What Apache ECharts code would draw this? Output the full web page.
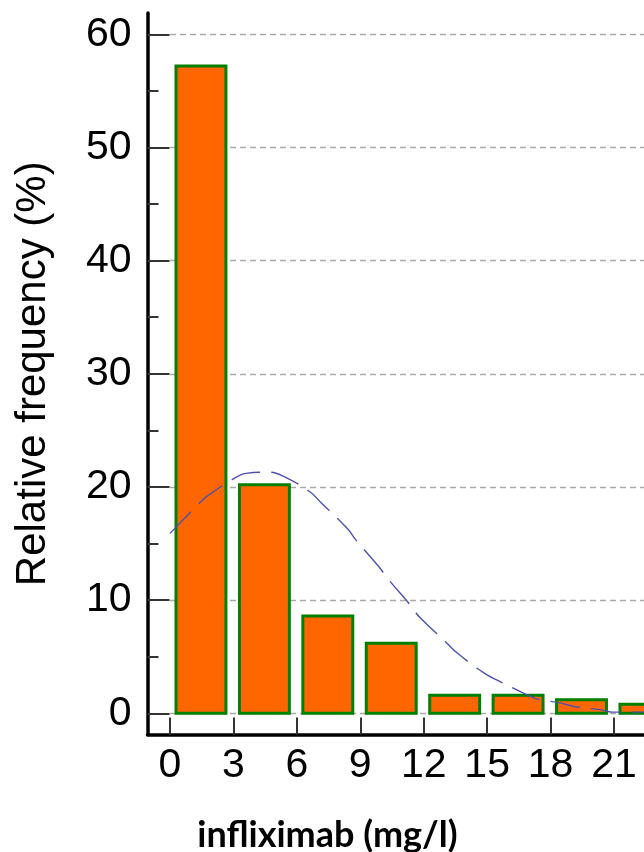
<!DOCTYPE html>
<html>
<head>
<meta charset="utf-8">
<script src="https://cdn.jsdelivr.net/npm/echarts@6/dist/echarts.min.js"></script>
<style>
  html, body { margin: 0; padding: 0; background: #fff; }
  #chart { width: 644px; height: 852px; }
</style>
</head>
<body>
<div id="chart"></div>
<script>
// Histogram bins of infliximab concentration (mg/l) and relative frequency (%)
const binStart = [0, 3, 6, 9, 12, 15, 18, 21];
const binEnd = [3, 6, 9, 12, 15, 18, 21, 24];
const relFreq = [57.2, 20.2, 8.6, 6.2, 1.6, 1.6, 1.2, 0.8];

// Fitted normal curve, sampled along the x axis
const curveX = [0, 1.2, 1.7, 2.9, 3.6, 4.7, 5.3, 6.6, 7.1, 8.4, 8.8, 9.9, 10.3, 11.4, 11.8,
                13.1, 13.6, 14.9, 15.5, 16.7, 17.3, 18.5, 19.1, 20.4, 20.9, 22.4];
const curveY = [15.9, 18.2, 19.1, 20.6, 21.2, 21.3, 21.0, 19.6, 18.7, 16.3, 15.3, 12.9, 11.9, 9.5, 8.5,
                6.2, 5.3, 3.5, 2.9, 1.8, 1.3, 0.9, 0.6, 0.3, 0.1, 0.1];

// Axis ticks
const xTicks = { min: 0, max: 24, step: 3 };
const yTicks = { min: 0, max: 60, step: 10 };

const histData = binStart.map((s, i) => [s, binEnd[i], relFreq[i]]);
const curveData = curveX.map((x, i) => [x, curveY[i]]);

const chart = echarts.init(document.getElementById('chart'), null, { renderer: 'canvas' });

const labelFont = 'Liberation Sans, Arial, sans-serif';

chart.setOption({
  animation: false,
  backgroundColor: '#ffffff',
  grid: [
    // outer frame carrying the two black axis lines
    { left: 147.5, top: 13, width: 600, height: 721.5, outerBoundsMode: 'none', containLabel: false },
    // plotting area (runs past the right edge of the canvas)
    { left: 170, top: 34.3, width: 507.4, height: 679, outerBoundsMode: 'none', containLabel: false }
  ],
  xAxis: [
    {
      gridIndex: 0, type: 'value', min: 0, max: 1,
      axisLine: { show: true, onZero: false, lineStyle: { color: '#000', width: 3.5 } },
      axisTick: { show: false }, axisLabel: { show: false }, splitLine: { show: false }
    },
    {
      gridIndex: 1, type: 'value', min: xTicks.min, max: xTicks.max, interval: xTicks.step,
      position: 'bottom', offset: 21.2,
      axisLine: { show: false, onZero: false },
      axisTick: { show: true, inside: true, length: 17, lineStyle: { color: '#333', width: 2 } },
      axisLabel: { fontSize: 41, fontFamily: labelFont, color: '#000', margin: 11 },
      splitLine: { show: false }
    }
  ],
  yAxis: [
    {
      gridIndex: 0, type: 'value', min: 0, max: 1,
      axisLine: { show: true, onZero: false, lineStyle: { color: '#000', width: 3.5 } },
      axisTick: { show: false }, axisLabel: { show: false }, splitLine: { show: false },
      name: 'Relative frequency (%)', nameLocation: 'middle', nameGap: 93,
      nameTextStyle: { fontSize: 42, fontFamily: labelFont, color: '#000' }
    },
    {
      gridIndex: 1, type: 'value', min: yTicks.min, max: yTicks.max, interval: yTicks.step,
      position: 'left', offset: 22.5,
      axisLine: { show: false, onZero: false },
      axisTick: { show: true, inside: true, length: 22, lineStyle: { color: '#333', width: 2 } },
      minorTick: { show: true, splitNumber: 2, length: 11, lineStyle: { color: '#333', width: 2 } },
      axisLabel: { fontSize: 41, fontFamily: labelFont, color: '#000', margin: 16 },
      splitLine: { show: true, lineStyle: { color: '#aaaaaa', width: 1.3, type: [6, 4] } }
    }
  ],
  series: [
    {
      type: 'custom',
      xAxisIndex: 1, yAxisIndex: 1,
      data: histData,
      encode: { x: [0, 1], y: 2 },
      clip: false,
      renderItem: function (params, api) {
        const p0 = api.coord([api.value(0), 0]);
        const p1 = api.coord([api.value(1), api.value(2)]);
        return {
          type: 'rect',
          shape: { x: p0[0] + 6, y: p1[1], width: p1[0] - p0[0] - 13.5, height: p0[1] - p1[1] },
          style: { fill: '#ff6600', stroke: '#008000', lineWidth: 3 }
        };
      },
      z: 2
    },
    {
      type: 'line',
      xAxisIndex: 1, yAxisIndex: 1,
      data: curveData,
      smooth: 0.4,
      symbol: 'none',
      lineStyle: { color: '#5050a8', width: 1.4, type: [30, 11] },
      z: 3
    }
  ],
  graphic: [
    {
      type: 'text',
      x: 327.5, y: 835,
      style: {
        text: 'infliximab (mg/l)',
        font: 'bold 36px Lato, "Open Sans", sans-serif',
        fill: '#000',
        align: 'center',
        verticalAlign: 'middle'
      }
    }
  ]
});
</script>
</body>
</html>
